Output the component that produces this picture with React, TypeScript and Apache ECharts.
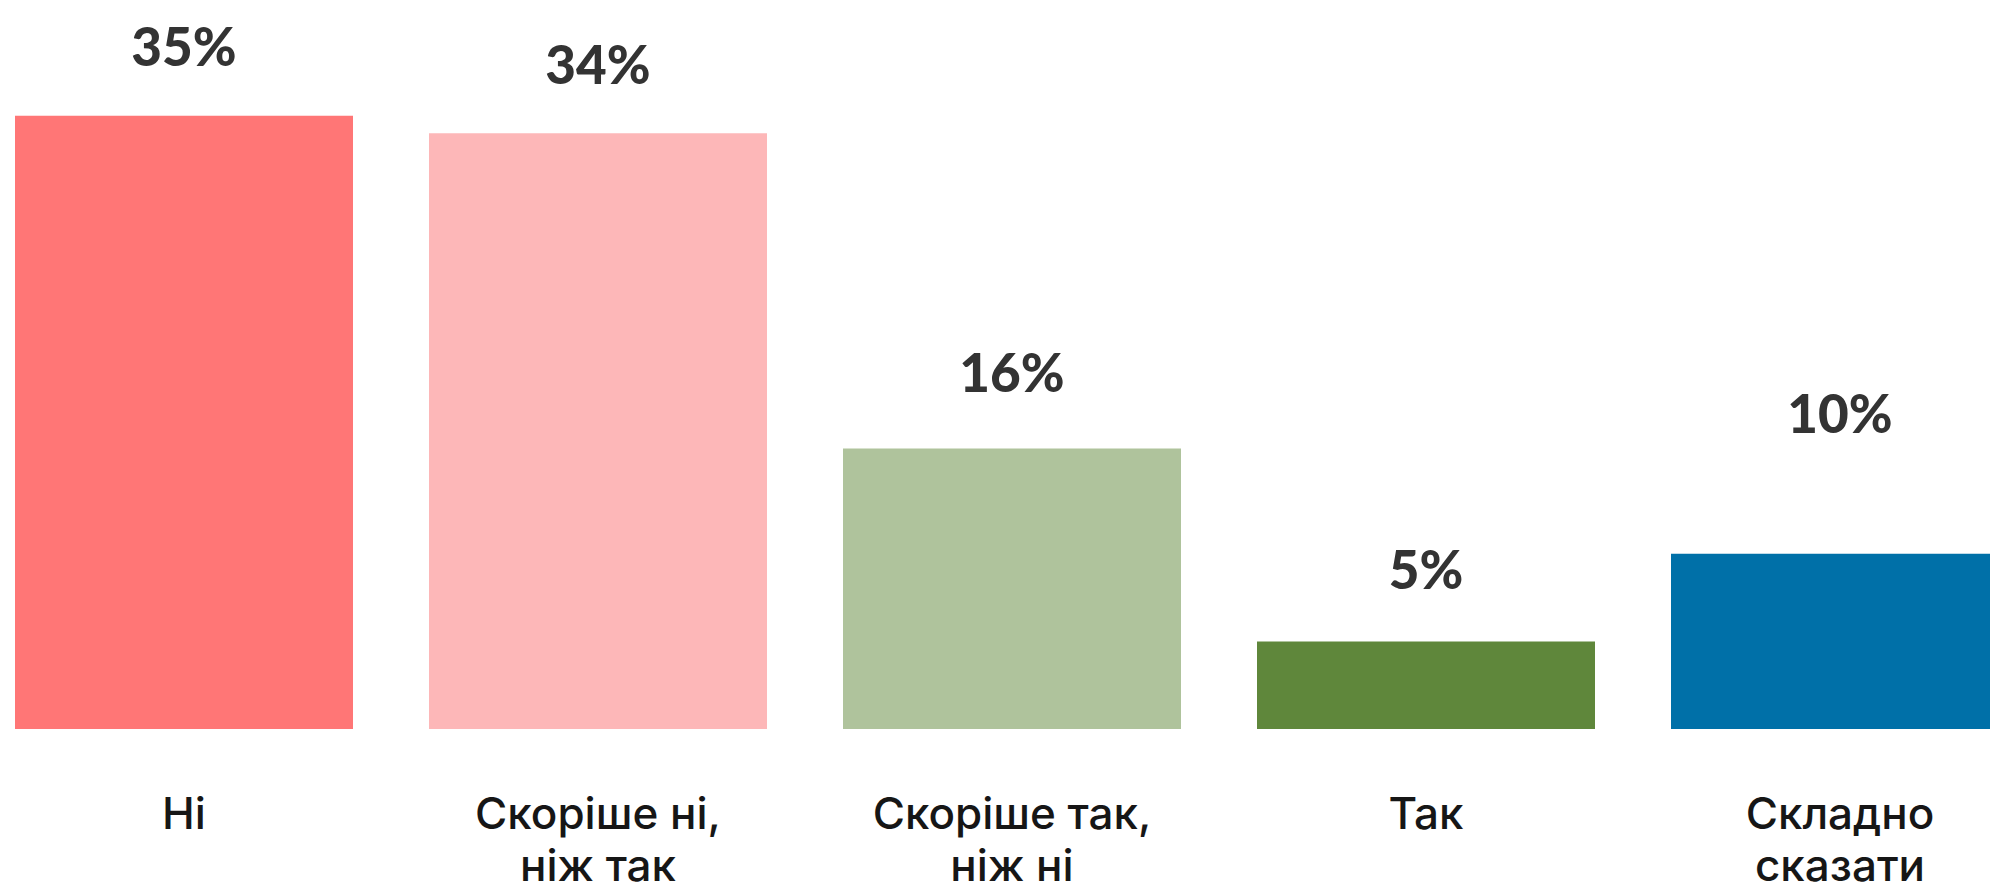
import React, { useEffect, useRef } from "react";
import * as echarts from "echarts";

const categories = ["Ні", "Скоріше ні,\nніж так", "Скоріше так,\nніж ні", "Так", "Складно\nсказати"];
const values = [35, 34, 16, 5, 10];
const colors = ["#FF7676", "#FDB7B8", "#AFC39C", "#5F873B", "#0070A8"];
const labelDistances = [44, 44, 51, 47, 115];

export default function App() {
  const ref = useRef<HTMLDivElement>(null);
  useEffect(() => {
    if (!ref.current) return;
    document.body.style.overflow = "hidden";
    const chart = echarts.init(ref.current, undefined, { renderer: "svg" });
    chart.setOption({
      animation: false,
      backgroundColor: "#ffffff",
      grid: {
        left: 0,
        right: 0,
        top: 28,
        bottom: 162,
        containLabel: false,
        outerBoundsMode: "none",
      },
      xAxis: {
        type: "category",
        data: categories,
        axisLine: { show: false },
        axisTick: { show: false },
        axisLabel: {
          interval: 0,
          margin: 58,
          fontFamily: "Inter",
          fontWeight: 500,
          fontSize: 44,
          lineHeight: 52,
          color: "#161616",
        },
      },
      yAxis: {
        type: "value",
        min: 0,
        max: 40,
        show: false,
        splitLine: { show: false },
      },
      series: [
        {
          type: "bar",
          barWidth: 338,
          data: values.map((v, i) => ({
            value: v,
            itemStyle: { color: colors[i] },
            label: { distance: labelDistances[i] },
          })),
          label: {
            show: true,
            position: "top",
            formatter: "{c}%",
            fontFamily: "Lato",
            fontWeight: 900,
            fontSize: 53,
            lineHeight: 52,
            color: "#333333",
          },
        },
      ],
    });
    return () => chart.dispose();
  }, []);
  return (
    <div
      style={{
        position: "fixed",
        left: 0,
        top: 0,
        width: 1990,
        height: 891,
        overflow: "hidden",
        background: "#ffffff",
      }}
    >
      <div
        ref={ref}
        style={{ position: "absolute", left: -23, top: 0, width: 2070, height: 891 }}
      />
    </div>
  );
}
